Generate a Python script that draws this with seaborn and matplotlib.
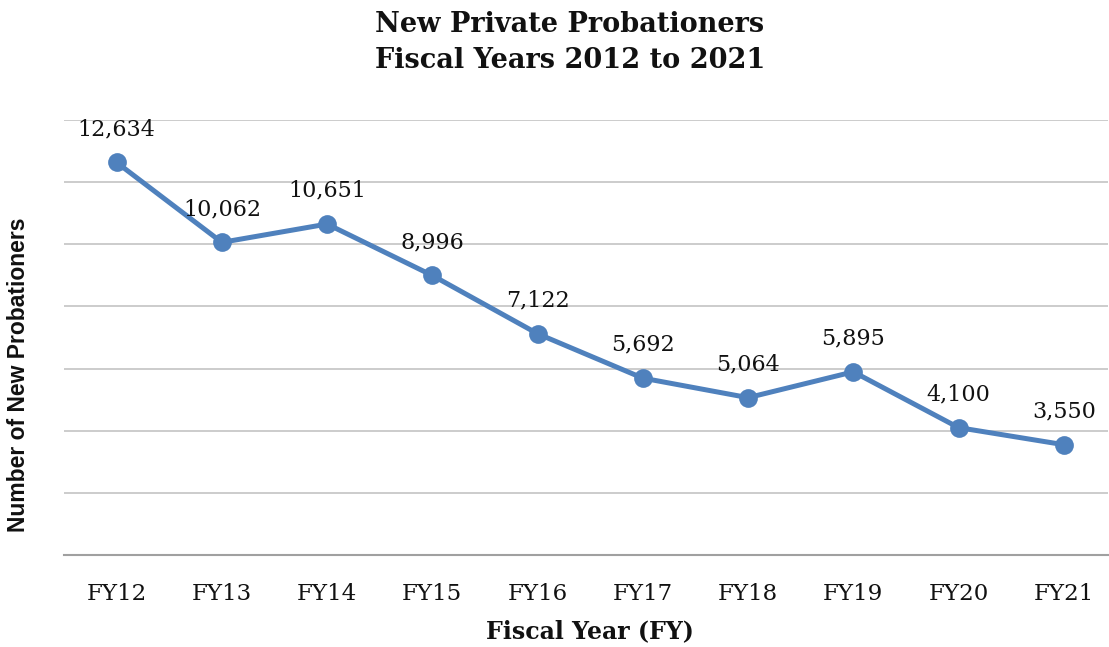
import matplotlib
matplotlib.use("Agg")
import matplotlib.pyplot as plt
import seaborn as sns
import pandas as pd

# Data
fiscal_years = ["FY12", "FY13", "FY14", "FY15", "FY16", "FY17", "FY18", "FY19", "FY20", "FY21"]
new_probationers = [12634, 10062, 10651, 8996, 7122, 5692, 5064, 5895, 4100, 3550]

sns.set_theme(style="white")
plt.rcParams["font.family"] = ["DejaVu Serif", "DejaVu Sans"]

df = pd.DataFrame({"year": fiscal_years, "count": new_probationers})
df["pos"] = range(len(df))

W, H = 1109, 647
fig = plt.figure(figsize=(W / 100, H / 100), dpi=100)
left, right, top, bottom = 64, 1108, 120, 555
ax = fig.add_axes([left / W, 1 - bottom / H, (right - left) / W, (bottom - top) / H])

line_color = "#4F81BD"
sns.lineplot(data=df, x="pos", y="count", ax=ax, color=line_color, linewidth=3.6,
             marker="o", markersize=13.5, markeredgewidth=0, markerfacecolor=line_color,
             zorder=3)

ax.set_xlim(-0.5, 9.42)
ax.set_ylim(0, 14000)
ax.set_yticks(range(0, 14001, 2000))
ax.set_yticklabels([])
ax.tick_params(axis="y", length=0)
ax.set_xticks(df["pos"])
ax.set_xticklabels(fiscal_years, fontsize=16.5, color="#111111")
ax.tick_params(axis="x", length=0, pad=20)

ax.grid(axis="y", color="#C8C8C8", linewidth=1.3)
ax.grid(axis="x", visible=False)
for side in ["left", "right", "top"]:
    ax.spines[side].set_visible(False)
ax.spines["bottom"].set_color("#A0A0A0")
ax.spines["bottom"].set_linewidth(1.5)

ax.set_xlabel("")
ax.set_ylabel("")

# Value labels above each point
for x, v in zip(df["pos"], df["count"]):
    ax.annotate(f"{v:,}", (x, v), xytext=(0, 24), textcoords="offset points",
                ha="center", va="center", fontsize=16, color="#111111",
                family=["DejaVu Serif"])

# Titles and axis labels
fig.text(570 / W, 1 - 24 / H, "New Private Probationers", ha="center", va="center",
         fontsize=19.5, fontweight="bold", color="#111111")
fig.text(570 / W, 1 - 61 / H, "Fiscal Years 2012 to 2021", ha="center", va="center",
         fontsize=19.5, fontweight="bold", color="#111111")
fig.text(590 / W, 1 - 631 / H, "Fiscal Year (FY)", ha="center", va="center",
         fontsize=17, fontweight="bold", color="#111111")
fig.text(19 / W, 1 - 375 / H, "Number of New Probationers", ha="center", va="center",
         rotation=90, fontsize=16.5, fontweight="bold", color="#111111",
         family=["Liberation Sans", "DejaVu Sans"])

fig.savefig("out.png", dpi=100, facecolor="white")
